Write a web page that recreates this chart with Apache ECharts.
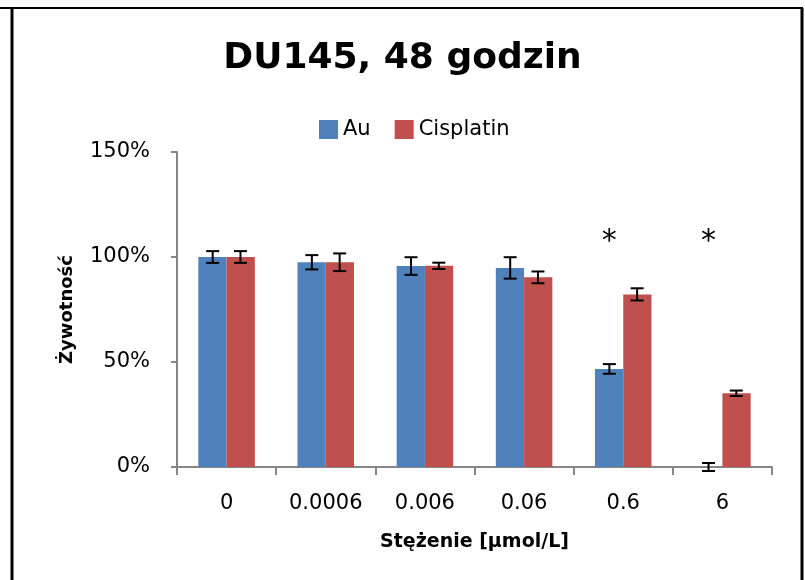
<!DOCTYPE html>
<html>
<head>
<meta charset="utf-8">
<script src="https://cdn.jsdelivr.net/npm/echarts@6/dist/echarts.min.js"></script>
<style>html,body{margin:0;padding:0;background:#fff}#c{width:805px;height:580px}</style>
</head>
<body>
<div id="c"></div>
<script>
const categories = ['0', '0.0006', '0.006', '0.06', '0.6', '6'];
const auValues = [100, 97.5, 95.7, 94.8, 46.7, 0];
const auErrors = [2.8, 3.4, 4.2, 5.1, 2.3, 1.9];
const cisValues = [100, 97.5, 95.8, 90.3, 82.2, 35.1];
const cisErrors = [2.8, 4.2, 1.5, 2.8, 2.9, 1.3];
const significance = ['', '', '', '', '*', '*'];
const significanceLevel = 110;
const yTicks = [0, 50, 100, 150];

const chart = echarts.init(document.getElementById('c'), null, {renderer: 'canvas'});
const FONT = 'DejaVu Sans';

function errorSeries(name, values, errors, offset) {
  return {
    type: 'custom',
    name: name + '_err',
    z: 10,
    silent: true,
    data: values.map((v, i) => [i, v - errors[i], v + errors[i]]),
    renderItem: function (params, api) {
      const lo = api.coord([api.value(0), api.value(1)]);
      const hi = api.coord([api.value(0), api.value(2)]);
      const band = api.size([1, 0])[0];
      const x = lo[0] + offset * band;
      const cap = 6.5;
      const style = {stroke: '#000', lineWidth: 2};
      return {
        type: 'group',
        children: [
          {type: 'line', shape: {x1: x, y1: lo[1], x2: x, y2: hi[1]}, style: style},
          {type: 'line', shape: {x1: x - cap, y1: lo[1], x2: x + cap, y2: lo[1]}, style: style},
          {type: 'line', shape: {x1: x - cap, y1: hi[1], x2: x + cap, y2: hi[1]}, style: style}
        ]
      };
    }
  };
}

const option = {
  backgroundColor: '#fff',
  animation: false,
  title: {
    text: 'DU145, 48 godzin',
    left: 'center',
    top: 36,
    textStyle: {fontFamily: FONT, fontWeight: 'bold', fontSize: 36, color: '#000'}
  },
  legend: {
    data: ['Au', 'Cisplatin'],
    top: 114,
    left: 314,
    itemWidth: 19,
    itemHeight: 19,
    itemGap: 24,
    icon: 'rect',
    textStyle: {fontFamily: FONT, fontSize: 21, color: '#000'}
  },
  grid: {left: 177, right: 33, top: 152, bottom: 113, containLabel: false},
  xAxis: {
    type: 'category',
    data: categories,
    name: 'Stężenie [μmol/L]',
    nameLocation: 'middle',
    nameGap: 66,
    nameTextStyle: {fontFamily: FONT, fontWeight: 'bold', fontSize: 19, color: '#000', verticalAlign: 'top'},
    axisLine: {lineStyle: {color: '#868686', width: 2}},
    axisTick: {show: true, length: 8, lineStyle: {color: '#868686', width: 2}},
    axisLabel: {fontFamily: FONT, fontSize: 21, color: '#000', margin: 26}
  },
  yAxis: {
    type: 'value',
    min: 0,
    max: 150,
    interval: 50,
    name: 'Żywotność',
    nameLocation: 'middle',
    nameGap: 101,
    nameRotate: 90,
    nameTextStyle: {fontFamily: FONT, fontWeight: 'bold', fontSize: 18, color: '#000'},
    axisLine: {show: true, lineStyle: {color: '#868686', width: 2}},
    axisTick: {show: true, length: 6, lineStyle: {color: '#868686', width: 2}},
    splitLine: {show: false},
    axisLabel: {
      fontFamily: FONT, fontSize: 21, color: '#000', margin: 27,
      formatter: function (v) { return yTicks.indexOf(v) >= 0 ? v + '%' : ''; }
    }
  },
  series: [
    {
      name: 'Au', type: 'bar', data: auValues,
      barGap: '0%', barCategoryGap: '43%',
      itemStyle: {color: '#4F81BD'}
    },
    {
      name: 'Cisplatin', type: 'bar', data: cisValues,
      barGap: '0%', barCategoryGap: '43%',
      itemStyle: {color: '#C0504D'}
    },
    errorSeries('Au', auValues, auErrors, -0.14),
    errorSeries('Cisplatin', cisValues, cisErrors, 0.14),
    {
      type: 'custom',
      name: 'sig',
      z: 10,
      silent: true,
      data: significance.map((s, i) => [i, significanceLevel, s]),
      renderItem: function (params, api) {
        const s = significance[params.dataIndex];
        if (!s) return null;
        const p = api.coord([api.value(0), api.value(1)]);
        const band = api.size([1, 0])[0];
        return {
          type: 'text',
          style: {
            x: p[0] - 0.14 * band, y: p[1] + 6, text: s,
            fill: '#000', font: '30px "DejaVu Sans"',
            align: 'center', verticalAlign: 'middle'
          }
        };
      }
    }
  ],
  graphic: [
    {type: 'line', shape: {x1: 0, y1: 8, x2: 803, y2: 8}, style: {stroke: '#000', lineWidth: 2}},
    {type: 'line', shape: {x1: 12, y1: 8, x2: 12, y2: 580}, style: {stroke: '#000', lineWidth: 3}},
    {type: 'line', shape: {x1: 802, y1: 8, x2: 802, y2: 580}, style: {stroke: '#000', lineWidth: 3}}
  ]
};
chart.setOption(option);
</script>
</body>
</html>
